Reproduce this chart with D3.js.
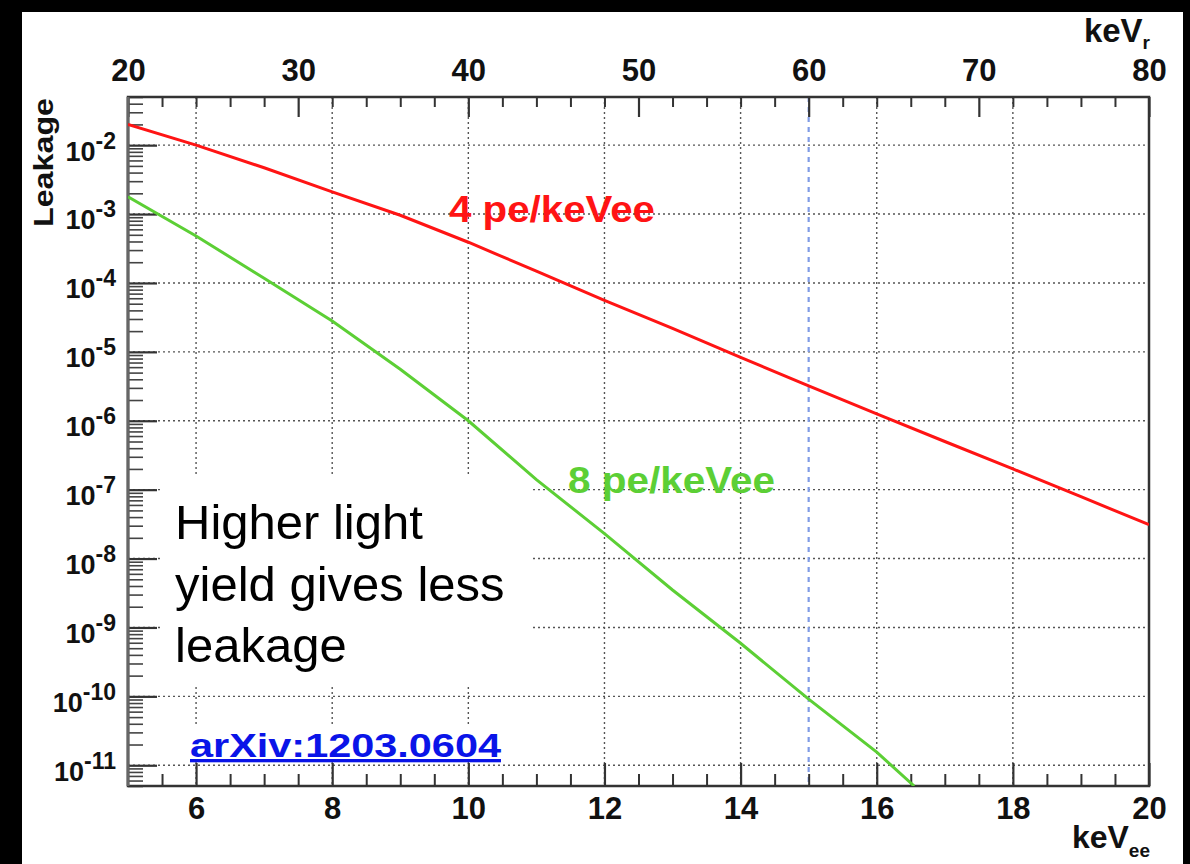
<!DOCTYPE html>
<html>
<head>
<meta charset="utf-8">
<script src="https://cdn.jsdelivr.net/npm/d3@7"></script>
<style>
  body { margin: 0; background: #000; }
  svg { display: block; }
  text { font-family: "Liberation Sans", Arial, Helvetica, sans-serif; }
</style>
</head>
<body>
<svg id="chart" width="1190" height="864"></svg>
<script>
// energy in keVee (bottom axis)
const energyRed = [5, 6, 7, 8, 9, 10, 11, 12, 13, 14, 15, 16, 17, 18, 19, 20]
const leakRed = [2.0e-2, 1.0e-2, 4.7e-3, 2.1e-3, 9.6e-4, 3.9e-4, 1.48e-4, 5.6e-5, 2.2e-5, 8.3e-6,
  3.2e-6, 1.26e-6, 5.0e-7, 2.0e-7, 7.9e-8, 3.1e-8]
const energyGreen = [5, 6, 7, 8, 9, 10, 11, 12, 13, 14, 15, 16, 16.55]
const leakGreen = [1.78e-3, 4.8e-4, 1.17e-4, 2.8e-5, 5.6e-6, 1.0e-6, 1.4e-7, 2.3e-8, 3.5e-9,
  5.9e-10, 9.1e-11, 1.55e-11, 5.0e-12]
const bottomTicks = [6, 8, 10, 12, 14, 16, 18, 20]
const topTicks = [20, 30, 40, 50, 60, 70, 80]
const decades = [-2, -3, -4, -5, -6, -7, -8, -9, -10, -11]
const cutEnergy = 15
const seriesLabels = ['4 pe/keVee', '8 pe/keVee']
const noteLines = ['Higher light', 'yield gives less', 'leakage']
const refText = 'arXiv:1203.0604'

const pLeft = 128, pRight = 1149, pTop = 97, pBottom = 786
const svg = d3.select('#chart')

let x = d3.scaleLinear().domain([5, 20]).range([pLeft, pRight])
let xTop = d3.scaleLinear().domain([20, 80]).range([pLeft, pRight])
let y = d3.scaleLog().domain([5e-12, 0.05]).range([pBottom, pTop])

// page: black with white panel
svg.append('rect').attr('width', 1190).attr('height', 864).attr('fill', '#000')
svg.append('rect').attr('x', 22).attr('y', 12).attr('width', 1161).attr('height', 852).attr('fill', '#fff')

// grid
const grid = svg.append('g').attr('stroke', '#555').attr('stroke-width', 1.4).attr('stroke-dasharray', '2,3')
grid.selectAll('line.h').data(decades).enter().append('line')
  .attr('x1', pLeft).attr('x2', pRight)
  .attr('y1', d => y(Math.pow(10, d))).attr('y2', d => y(Math.pow(10, d)))
grid.selectAll('line.v').data(bottomTicks.filter(d => d < 20)).enter().append('line')
  .attr('y1', pTop).attr('y2', pBottom)
  .attr('x1', d => x(d)).attr('x2', d => x(d))

// white box behind the note
svg.append('rect').attr('x', 162).attr('y', 476).attr('width', 371).attr('height', 209).attr('fill', '#fff')

// cut line at 15 keVee
svg.append('line')
  .attr('x1', x(cutEnergy)).attr('x2', x(cutEnergy)).attr('y1', pTop).attr('y2', pBottom)
  .attr('stroke', '#7f9be6').attr('stroke-width', 2.2).attr('stroke-dasharray', '5,5')

// minor ticks (log left)
let minorY = []
decades.concat([-1, -12]).forEach(d => {
  for (let m = 2; m <= 9; m++) {
    let v = m * Math.pow(10, d)
    if (v >= 5e-12 && v <= 0.05) minorY.push(v)
  }
})
svg.append('g').attr('transform', `translate(${pLeft},0)`)
  .call(d3.axisLeft(y).tickValues(minorY).tickSize(-15).tickFormat(''))
  .call(g => g.select('.domain').remove())
  .selectAll('line').attr('stroke', '#444').attr('stroke-width', 1.6)

// major ticks left
let yAxis = svg.append('g').attr('transform', `translate(${pLeft},0)`)
  .call(d3.axisLeft(y).tickValues(decades.map(d => Math.pow(10, d))).tickSize(-29).tickPadding(12))
yAxis.select('.domain').remove()
yAxis.selectAll('line').attr('stroke', '#333').attr('stroke-width', 2.2)
yAxis.selectAll('text')
  .attr('font-size', 27).attr('font-weight', 'bold').attr('fill', '#111')
  .attr('font-family', '"Liberation Sans", Arial, sans-serif')
  .attr('dy', '0.55em')
  .text(null)
  .each(function (d) {
    let t = d3.select(this)
    t.append('tspan').text('10')
    t.append('tspan').attr('dy', -12).attr('font-size', 23).text(Math.round(Math.log10(d)))
  })

// bottom axis
let minorX = d3.range(5.5, 20, 0.5).filter(d => d % 2 !== 0)
svg.append('g').attr('transform', `translate(0,${pBottom})`)
  .call(d3.axisBottom(x).tickValues(minorX).tickSize(-12).tickFormat(''))
  .call(g => g.select('.domain').remove())
  .selectAll('line').attr('stroke', '#333').attr('stroke-width', 2)
let xAxis = svg.append('g').attr('transform', `translate(0,${pBottom})`)
  .call(d3.axisBottom(x).tickValues(bottomTicks).tickSize(-23).tickPadding(11).tickFormat(d3.format('d')))
xAxis.select('.domain').remove()
xAxis.selectAll('line').attr('stroke', '#333').attr('stroke-width', 2.2)
xAxis.selectAll('text').attr('font-size', 31).attr('font-weight', 'bold').attr('fill', '#111')
  .attr('font-family', '"Liberation Sans", Arial, sans-serif')

// top axis (keVr)
let minorTop = d3.range(22, 80, 2).filter(d => d % 10 !== 0)
svg.append('g').attr('transform', `translate(0,${pTop})`)
  .call(d3.axisTop(xTop).tickValues(minorTop).tickSize(-10).tickFormat(''))
  .call(g => g.select('.domain').remove())
  .selectAll('line').attr('stroke', '#333').attr('stroke-width', 2)
let topAxis = svg.append('g').attr('transform', `translate(0,${pTop})`)
  .call(d3.axisTop(xTop).tickValues(topTicks).tickSize(-20).tickPadding(16))
topAxis.select('.domain').remove()
topAxis.selectAll('line').attr('stroke', '#333').attr('stroke-width', 2.2)
topAxis.selectAll('text').attr('font-size', 31).attr('font-weight', 'bold').attr('fill', '#111')
  .attr('font-family', '"Liberation Sans", Arial, sans-serif')

// frame
svg.append('rect').attr('x', pLeft).attr('y', pTop).attr('width', pRight - pLeft).attr('height', pBottom - pTop)
  .attr('fill', 'none').attr('stroke', '#333').attr('stroke-width', 2.5)
svg.append('line').attr('x1', pLeft).attr('x2', pLeft).attr('y1', pTop).attr('y2', pBottom)
  .attr('stroke', '#666').attr('stroke-width', 3)

// curves
svg.append('clipPath').attr('id', 'plot').append('rect')
  .attr('x', pLeft).attr('y', pTop).attr('width', pRight - pLeft).attr('height', pBottom - pTop)
let line = d3.line().x(d => x(d[0])).y(d => y(d[1]))
svg.append('path').datum(d3.zip(energyRed, leakRed))
  .attr('d', line).attr('clip-path', 'url(#plot)')
  .attr('fill', 'none').attr('stroke', '#ff1414').attr('stroke-width', 3)
svg.append('path').datum(d3.zip(energyGreen, leakGreen))
  .attr('d', line).attr('clip-path', 'url(#plot)')
  .attr('fill', 'none').attr('stroke', '#5ccf35').attr('stroke-width', 3)

// series labels
svg.append('text').attr('x', 449).attr('y', 222).text(seriesLabels[0])
  .attr('font-size', 37).attr('font-weight', 'bold').attr('fill', '#ff1414')
  .attr('textLength', 206).attr('lengthAdjust', 'spacingAndGlyphs')
svg.append('text').attr('x', 568).attr('y', 493).text(seriesLabels[1])
  .attr('font-size', 37).attr('font-weight', 'bold').attr('fill', '#5ccf35')
  .attr('textLength', 207).attr('lengthAdjust', 'spacingAndGlyphs')

// axis titles
svg.append('text').attr('transform', 'translate(53,98) rotate(-90)')
  .attr('text-anchor', 'end').attr('font-size', 28).attr('font-weight', 'bold').attr('fill', '#111')
  .attr('textLength', 129).attr('lengthAdjust', 'spacingAndGlyphs')
  .text('Leakage')

let topTitle = svg.append('text').attr('x', 1150).attr('y', 42).attr('text-anchor', 'end')
  .attr('font-size', 33).attr('font-weight', 'bold').attr('fill', '#111')
topTitle.append('tspan').text('keV')
topTitle.append('tspan').attr('dy', 7).attr('font-size', 19).text('r')

let botTitle = svg.append('text').attr('x', 1150).attr('y', 848).attr('text-anchor', 'end')
  .attr('font-size', 32).attr('font-weight', 'bold').attr('fill', '#111')
botTitle.append('tspan').text('keV')
botTitle.append('tspan').attr('dy', 9).attr('font-size', 19).text('ee')

// note
let note = svg.append('text').attr('font-size', 49).attr('fill', '#000')
note.selectAll('tspan').data(noteLines).enter().append('tspan')
  .attr('x', 175).attr('y', (d, i) => 539 + i * 61.5).text(d => d)

// reference
svg.append('rect').attr('x', 186).attr('y', 726).attr('width', 320).attr('height', 34).attr('fill', '#fff')
svg.append('text').attr('x', 190).attr('y', 757).text(refText)
  .attr('font-family', '"DejaVu Sans", Verdana, sans-serif')
  .attr('font-size', 33).attr('font-weight', 'bold').attr('fill', '#0a14e8')
  .attr('text-decoration', 'underline')
  .attr('textLength', 311).attr('lengthAdjust', 'spacingAndGlyphs')
</script>
</body>
</html>
